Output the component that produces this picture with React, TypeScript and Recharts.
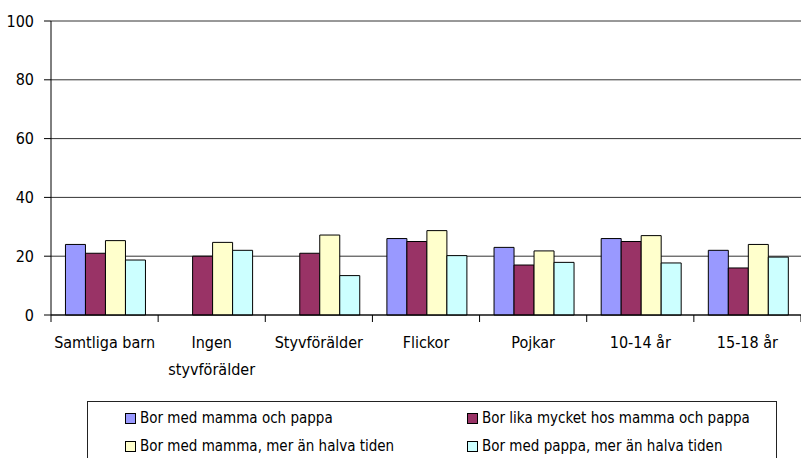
import React from 'react';
import { BarChart, Bar, XAxis, YAxis, CartesianGrid } from 'recharts';

const categories = ['Samtliga barn', 'Ingen styvförälder', 'Styvförälder', 'Flickor', 'Pojkar', '10-14 år', '15-18 år'];
const seriesNames = [
  'Bor med mamma och pappa',
  'Bor lika mycket hos mamma och pappa',
  'Bor med mamma, mer än halva tiden',
  'Bor med pappa, mer än halva tiden',
];
const seriesColors = ['#9999FF', '#993366', '#FFFFCC', '#CCFFFF'];
const bothParents = [24, null, null, 26, 23, 26, 22];
const equalTime = [21, 20, 21, 25, 17, 25, 16];
const motherMore = [25.3, 24.7, 27.2, 28.7, 21.8, 27, 24];
const fatherMore = [18.7, 22, 13.4, 20.2, 17.9, 17.7, 19.7];
const yTicks = [0, 20, 40, 60, 80, 100];

const seriesValues = [bothParents, equalTime, motherMore, fatherMore];
const data = categories.map((c, i) => {
  const row: Record<string, any> = { name: c };
  seriesValues.forEach((vals, s) => {
    row['s' + s] = vals[i];
  });
  return row;
});

const FONT = "'Liberation Sans Narrow', 'Arial Narrow', 'DejaVu Sans Condensed', sans-serif";
const W = 801;
const H = 458;
const LEFT = 51;
const BAND = (W - LEFT) / categories.length;

const XTick = (props: any) => {
  const { x, y, payload, index } = props;
  const label: string = payload.value;
  const lines = label.length > 14 ? label.split(' ') : [label];
  const left = x - BAND / 2;
  return (
    <g>
      <line x1={left} x2={left} y1={y - 8} y2={y - 1} stroke="#000" />
      {index === categories.length - 1 && (
        <line x1={left + BAND} x2={left + BAND} y1={y - 8} y2={y - 1} stroke="#000" />
      )}
      <text x={x} y={y + 25} textAnchor="middle" fontFamily={FONT} fontSize={16} fill="#000">
        {lines.map((l, i) => (
          <tspan key={i} x={x} dy={i === 0 ? 0 : 27}>
            {l}
          </tspan>
        ))}
      </text>
    </g>
  );
};

export default function App() {
  return (
    <div style={{ position: 'absolute', left: 0, top: 0, width: W, height: H, background: '#fff', overflow: 'hidden' }}>
      <BarChart
        width={W}
        height={H}
        data={data}
        margin={{ top: 21, right: 0, bottom: 83, left: 0 }}
        barCategoryGap="13.5%"
        barGap={0}
      >
        <CartesianGrid vertical={false} stroke="#333" />
        <YAxis
          domain={[0, 100]}
          ticks={yTicks}
          width={LEFT}
          axisLine={{ stroke: '#000' }}
          tickLine={{ stroke: '#000' }}
          tickSize={7}
          tickMargin={10}
          tick={{ fontFamily: FONT, fontSize: 16, fill: '#000' }}
          interval={0}
        />
        <XAxis
          dataKey="name"
          height={60}
          axisLine={{ stroke: '#000' }}
          tickLine={false}
          tick={<XTick />}
          interval={0}
        />
        {seriesNames.map((n, s) => (
          <Bar
            key={n}
            dataKey={'s' + s}
            name={n}
            fill={seriesColors[s]}
            stroke="#000"
            strokeWidth={1}
            isAnimationActive={false}
          />
        ))}
      </BarChart>
      <div
        style={{
          position: 'absolute',
          left: 87,
          top: 401,
          width: 690,
          height: 70,
          border: '1px solid #222',
          boxSizing: 'border-box',
          fontFamily: FONT,
          fontSize: 15,
          color: '#000',
        }}
      >
        {seriesNames.map((n, s) => (
          <div
            key={n}
            style={{
              position: 'absolute',
              left: s % 2 === 0 ? 37 : 379,
              top: s < 2 ? 7 : 35,
              display: 'flex',
              alignItems: 'center',
              whiteSpace: 'nowrap',
              lineHeight: '18px',
            }}
          >
            <span
              style={{
                display: 'inline-block',
                width: 9,
                height: 9,
                background: seriesColors[s],
                border: '1px solid #000',
                marginRight: 4,
              }}
            />
            {n}
          </div>
        ))}
      </div>
    </div>
  );
}
